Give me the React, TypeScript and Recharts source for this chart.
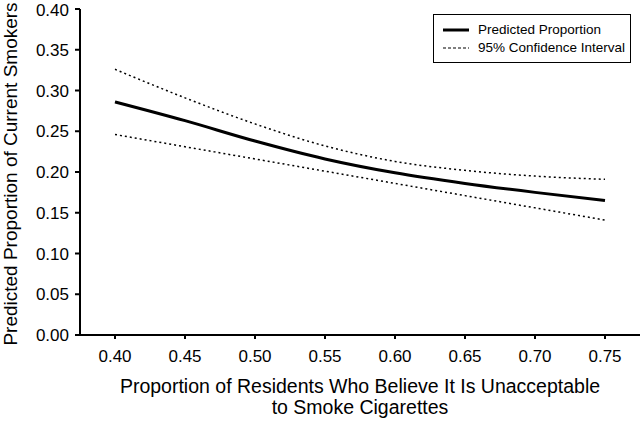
import { LineChart, Line, XAxis, YAxis } from 'recharts';

const proportions = [0.4, 0.45, 0.5, 0.55, 0.6, 0.65, 0.7, 0.75];
const predicted = [0.286, 0.263, 0.238, 0.216, 0.199, 0.186, 0.175, 0.165];
const upperCI = [0.326, 0.291, 0.259, 0.232, 0.213, 0.202, 0.195, 0.191];
const lowerCI = [0.246, 0.231, 0.216, 0.201, 0.186, 0.171, 0.156, 0.141];

const xTicks = [0.4, 0.45, 0.5, 0.55, 0.6, 0.65, 0.7, 0.75];
const yTicks = [0, 0.05, 0.1, 0.15, 0.2, 0.25, 0.3, 0.35, 0.4];

const xTitle = ['Proportion of Residents Who Believe It Is Unacceptable', 'to Smoke Cigarettes'];
const yTitle = 'Predicted Proportion of Current Smokers';
const legendLabels = ['Predicted Proportion', '95% Confidence Interval'];

const data = proportions.map((p, i) => ({
  p,
  predicted: predicted[i],
  upper: upperCI[i],
  lower: lowerCI[i],
}));

const FONT = '"Liberation Sans", Arial, sans-serif';

// two-line x axis title
const XTitle = (props: any) => {
  const { viewBox } = props;
  const cx = viewBox.x + viewBox.width / 2;
  return (
    <text x={cx} y={viewBox.y + 58} textAnchor="middle" fontSize={19.5} fill="#000" fontFamily={FONT}>
      <tspan x={cx}>{xTitle[0]}</tspan>
      <tspan x={cx} dy={21}>{xTitle[1]}</tspan>
    </text>
  );
};

const YTitle = (props: any) => {
  const { viewBox } = props;
  const cy = viewBox.y + viewBox.height / 2 + 2;
  return (
    <text
      x={10}
      y={cy}
      transform={`rotate(-90, 10, ${cy})`}
      textAnchor="middle"
      dominantBaseline="central"
      fontSize={19}
      fill="#000"
      fontFamily={FONT}
    >
      {yTitle}
    </text>
  );
};

// legend drawn as an overlay so it doesn't eat plot space
const LegendBox = () => (
  <div
    style={{
      position: 'absolute',
      left: 433,
      top: 14,
      width: 198,
      height: 49,
      boxSizing: 'border-box',
      border: '1.5px solid #000',
      background: '#fff',
      padding: '6px 0 0 9px',
      fontFamily: FONT,
      fontSize: 13.5,
      color: '#000',
      lineHeight: '18px',
    }}
  >
    <div style={{ display: 'flex', alignItems: 'center' }}>
      <svg width={26} height={10} style={{ marginRight: 9 }}>
        <line x1={0} y1={5} x2={26} y2={5} stroke="#000" strokeWidth={3} />
      </svg>
      {legendLabels[0]}
    </div>
    <div style={{ display: 'flex', alignItems: 'center' }}>
      <svg width={26} height={10} style={{ marginRight: 9 }}>
        <line x1={0} y1={5} x2={26} y2={5} stroke="#000" strokeWidth={1.2} strokeDasharray="3 2" />
      </svg>
      {legendLabels[1]}
    </div>
  </div>
);

export default function App() {
  return (
    <div style={{ position: 'absolute', left: 0, top: 0, width: 640, height: 423, background: '#fff' }}>
      <LineChart width={640} height={423} data={data} margin={{ top: 9, right: 0, left: 0, bottom: 0 }}>
        <XAxis
          dataKey="p"
          type="number"
          domain={[0.375, 0.775]}
          ticks={xTicks}
          tickFormatter={(v: number) => v.toFixed(2)}
          height={88}
          stroke="#000"
          strokeWidth={2}
          tickSize={4}
          tickMargin={11}
          tick={{ fill: '#000', fontSize: 17, fontFamily: FONT }}
          label={<XTitle />}
        />
        <YAxis
          type="number"
          domain={[0, 0.4]}
          ticks={yTicks}
          tickFormatter={(v: number) => v.toFixed(2)}
          width={80}
          stroke="#000"
          strokeWidth={2}
          tickSize={5}
          tickMargin={6}
          tick={{ fill: '#000', fontSize: 17, fontFamily: FONT }}
          label={<YTitle />}
        />
        <Line
          type="monotone"
          dataKey="upper"
          stroke="#000"
          strokeWidth={1.5}
          strokeDasharray="2 3"
          dot={false}
          isAnimationActive={false}
        />
        <Line
          type="monotone"
          dataKey="lower"
          stroke="#000"
          strokeWidth={1.5}
          strokeDasharray="2 3"
          dot={false}
          isAnimationActive={false}
        />
        <Line
          type="monotone"
          dataKey="predicted"
          stroke="#000"
          strokeWidth={3}
          dot={false}
          isAnimationActive={false}
        />
      </LineChart>
      <LegendBox />
    </div>
  );
}
